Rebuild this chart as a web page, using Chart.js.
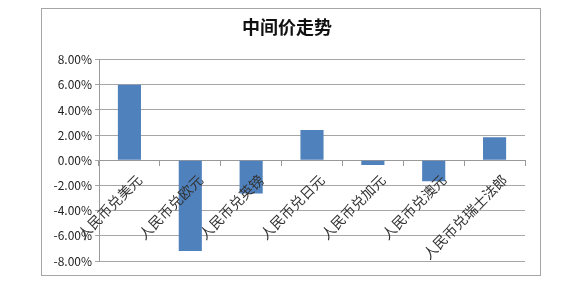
<!DOCTYPE html>
<html><head><meta charset="utf-8">
<script src="https://cdn.jsdelivr.net/npm/chart.js@4"></script>
<style>
html,body{margin:0;padding:0;background:#fff;}
#wrap{position:relative;width:580px;height:294px;}
#frame{position:absolute;left:41px;top:8px;width:498px;height:266px;border:1px solid #a6a6a6;}
canvas{position:absolute;left:0;top:0;}
</style></head><body>
<div id="wrap"><div id="frame"></div><canvas id="c" width="580" height="294"></canvas></div>
<script>
const title = '中间价走势';
const categories = ['人民币兑美元','人民币兑欧元','人民币兑英镑','人民币兑日元','人民币兑加元','人民币兑澳元','人民币兑瑞士法郎'];
const values = [6.0, -7.2, -2.64, 2.4, -0.37, -1.67, 1.83];
const yMin = -8, yMax = 8, yStep = 2;
const font = '"Noto Sans CJK SC", "Liberation Sans", sans-serif';

new Chart(document.getElementById('c'), {
  type: 'bar',
  data: { labels: categories, datasets: [{ data: values, backgroundColor: '#4f81bd', barPercentage: 0.76, categoryPercentage: 0.5 }] },
  options: {
    responsive: false, animation: false,
    layout: { padding: { left: 49, right: 55, top: 6, bottom: 33 } },
    plugins: {
      legend: { display: false },
      tooltip: { enabled: false },
      title: { display: true, text: title, color: '#111', font: { family: font, size: 18, weight: 'bold' }, padding: { top: 10, bottom: 22 } }
    },
    scales: {
      x: {
        position: { y: 0 },
        grid: { display: true, drawOnChartArea: false, offset: true, tickLength: 5, color: '#999' },
        border: { color: '#999' },
        ticks: { z: 1, autoSkip: false, maxRotation: 45, minRotation: 45, color: '#333', font: { family: font, size: 14 }, padding: 6, labelOffset: 10 }
      },
      y: {
        min: yMin, max: yMax,
        afterFit: s => { s.width = 50; },
        grid: { color: '#a6a6a6', tickLength: 4 },
        border: { color: '#999' },
        ticks: { stepSize: yStep, color: '#222', padding: 3, font: { family: font, size: 12 }, callback: v => v.toFixed(2) + '%' }
      }
    }
  }
});
</script></body></html>
